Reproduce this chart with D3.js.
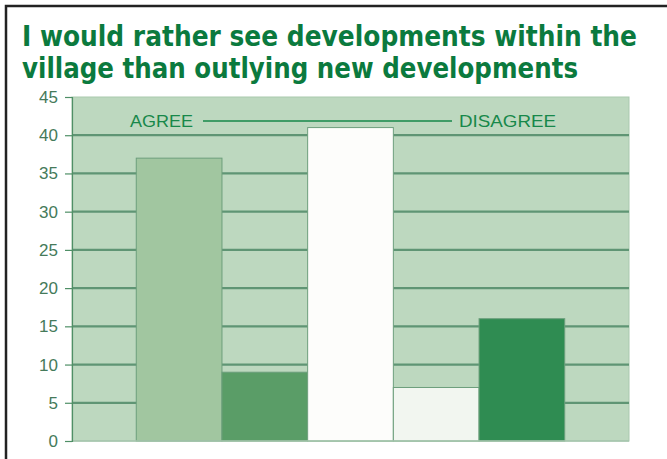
<!DOCTYPE html>
<meta charset="utf-8">
<script src="https://d3js.org/d3.v7.min.js"></script>
<style>
  body { margin: 0; background: #fff; }
</style>
<div id="my_dataviz"></div>
<script>

// data
var bars = ["b1", "b2", "b3", "b4", "b5"];
var values = [37, 9, 41, 7, 16];
var barColors = ["#a1c6a0", "#5a9d67", "#fdfdfb", "#f2f6f0", "#2f8c52"];
var yTicks = [0, 5, 10, 15, 20, 25, 30, 35, 40, 45];
var titleLines = ["I would rather see developments within the",
                  "village than outlying new developments"];
var legendLeft = "AGREE", legendRight = "DISAGREE";

var W = 667, H = 459;
var margin = {top: 97, right: 38, bottom: 18, left: 72},
    width = W - margin.left - margin.right,
    height = H - margin.top - margin.bottom;

var root = d3.select("#my_dataviz")
  .append("svg")
    .attr("width", W)
    .attr("height", H);

// black frame (top + left edge)
root.append("path")
  .attr("d", "M6,459 V6 H667")
  .attr("fill", "none")
  .attr("stroke", "#222")
  .attr("stroke-width", 2.5);

// title
root.selectAll(".title")
  .data(titleLines)
  .enter()
  .append("text")
    .attr("x", 22)
    .attr("y", function(d, i) { return 46 + i * 32; })
    .attr("textLength", function(d, i) { return i == 0 ? 615 : 556; })
    .attr("lengthAdjust", "spacingAndGlyphs")
    .style("font-family", "'Liberation Sans Narrow', 'DejaVu Sans Condensed', sans-serif")
    .style("font-weight", "bold")
    .style("font-size", "29px")
    .style("fill", "#0b7a3e")
    .text(function(d) { return d; });

var svg = root.append("g")
    .attr("transform", "translate(" + margin.left + "," + margin.top + ")");

var x = d3.scaleBand()
  .domain(bars)
  .range([0, width])
  .paddingInner(0)
  .paddingOuter(0.75);

var y = d3.scaleLinear()
  .domain([0, 45])
  .range([height, 0]);

// plot background
svg.append("rect")
  .attr("width", width)
  .attr("height", height)
  .attr("fill", "#bdd8bf")
  .attr("stroke", "#a9c9ae")
  .attr("stroke-width", 1);

// horizontal grid
svg.append("g")
  .selectAll("line")
  .data(yTicks.filter(function(d) { return d > 0 && d < 45; }))
  .enter()
  .append("line")
    .attr("x1", 0)
    .attr("x2", width)
    .attr("y1", function(d) { return y(d); })
    .attr("y2", function(d) { return y(d); })
    .attr("stroke", "#5f9574")
    .attr("stroke-width", 2.2);

// bars
svg.append("g")
  .selectAll("rect")
  .data(values)
  .enter()
  .append("rect")
    .attr("x", function(d, i) { return x(bars[i]); })
    .attr("y", function(d) { return y(d); })
    .attr("width", x.bandwidth())
    .attr("height", function(d) { return height - y(d); })
    .attr("fill", function(d, i) { return barColors[i]; })
    .attr("stroke", "#6d9f7c")
    .attr("stroke-width", 1);

// x axis baseline
svg.append("line")
  .attr("x1", 0).attr("x2", width)
  .attr("y1", height).attr("y2", height)
  .attr("stroke", "#a6c6ae")
  .attr("stroke-width", 1.5);

// y axis
var yAxis = svg.append("g")
  .call(d3.axisLeft(y).tickValues(yTicks).tickSize(7).tickPadding(7));
yAxis.select(".domain").attr("stroke", "#4f8f66").attr("stroke-width", 1.2);
yAxis.selectAll(".tick line").attr("stroke", "#4f8f66").attr("stroke-width", 1.2);
yAxis.selectAll(".tick text")
  .style("font-family", "'Liberation Sans', Arial, sans-serif")
  .style("font-size", "17px")
  .style("fill", "#457a5a");

// AGREE ---- DISAGREE
var ly = 24;
var legendFont = function(sel) {
  sel.style("font-family", "'Liberation Sans', Arial, sans-serif")
    .style("font-size", "16.5px")
    .style("fill", "#17884a");
};
svg.append("text")
  .attr("x", 58).attr("y", ly)
  .attr("dy", "0.36em")
  .attr("textLength", 63)
  .attr("lengthAdjust", "spacingAndGlyphs")
  .call(legendFont)
  .text(legendLeft);
svg.append("line")
  .attr("x1", 131).attr("x2", 380)
  .attr("y1", ly).attr("y2", ly)
  .attr("stroke", "#17884a")
  .attr("stroke-width", 1.3);
svg.append("text")
  .attr("x", 387).attr("y", ly)
  .attr("dy", "0.36em")
  .attr("textLength", 97)
  .attr("lengthAdjust", "spacingAndGlyphs")
  .call(legendFont)
  .text(legendRight);

</script>
